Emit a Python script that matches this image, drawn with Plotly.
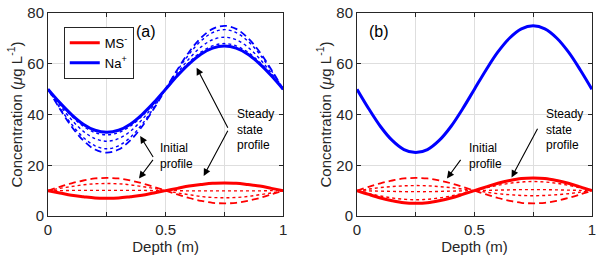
import plotly.graph_objects as go

# ---------------- data ----------------
depth = [0, 0.05, 0.1, 0.15, 0.2, 0.25, 0.3, 0.35, 0.4, 0.45, 0.5,
         0.55, 0.6, 0.65, 0.7, 0.75, 0.8, 0.85, 0.9, 0.95, 1.0]

# panel (a)
na_a_initial = [50, 42.3, 35.3, 29.8, 26.2, 25.0, 26.2, 29.8, 35.3, 42.3, 50,
                57.7, 64.7, 70.2, 73.8, 75.0, 73.8, 70.2, 64.7, 57.7, 50]
na_a_t1 = [50, 42.7, 36.2, 31.0, 27.7, 26.5, 27.7, 31.0, 36.2, 42.7, 50,
           57.3, 63.8, 69.0, 72.3, 73.5, 72.3, 69.0, 63.8, 57.3, 50]
na_a_t2 = [50, 43.7, 38.0, 33.4, 30.5, 29.5, 30.5, 33.4, 38.0, 43.7, 50,
           56.3, 62.0, 66.6, 69.5, 70.5, 69.5, 66.6, 62.0, 56.3, 50]
na_a_t3 = [50, 44.4, 39.4, 35.4, 32.9, 32.0, 32.9, 35.4, 39.4, 44.4, 50,
           55.6, 60.6, 64.6, 67.1, 68.0, 67.1, 64.6, 60.6, 55.6, 50]
na_a_steady = [50, 44.7, 40.0, 36.2, 33.8, 33.0, 33.8, 36.2, 40.0, 44.7, 50,
               55.3, 60.0, 63.8, 66.2, 67.0, 66.2, 63.8, 60.0, 55.3, 50]

ms_a_initial = [10, 11.5, 12.9, 14.0, 14.8, 15.0, 14.8, 14.0, 12.9, 11.5, 10,
                8.5, 7.1, 6.0, 5.2, 5.0, 5.2, 6.0, 7.1, 8.5, 10]
ms_a_t1 = [10, 10.9, 11.6, 12.3, 12.7, 12.8, 12.7, 12.3, 11.6, 10.9, 10,
           9.1, 8.4, 7.7, 7.3, 7.2, 7.3, 7.7, 8.4, 9.1, 10]
ms_a_t2 = [10, 10.0, 10.1, 10.1, 10.1, 10.1, 10.1, 10.1, 10.1, 10.0, 10,
           10.0, 9.9, 9.9, 9.9, 9.9, 9.9, 9.9, 9.9, 10.0, 10]
ms_a_steady = [10, 9.1, 8.2, 7.6, 7.1, 7.0, 7.1, 7.6, 8.2, 9.1, 10,
               10.9, 11.8, 12.4, 12.9, 13.0, 12.9, 12.4, 11.8, 10.9, 10]

# panel (b)
na_b_steady = [50, 42.3, 35.3, 29.8, 26.2, 25.0, 26.2, 29.8, 35.3, 42.3, 50,
               57.7, 64.7, 70.2, 73.8, 75.0, 73.8, 70.2, 64.7, 57.7, 50]
ms_b_initial = [10, 11.5, 12.9, 14.0, 14.8, 15.0, 14.8, 14.0, 12.9, 11.5, 10,
                8.5, 7.1, 6.0, 5.2, 5.0, 5.2, 6.0, 7.1, 8.5, 10]
ms_b_t1 = [10, 10.6, 11.2, 11.6, 11.9, 12.0, 11.9, 11.6, 11.2, 10.6, 10,
           9.4, 8.8, 8.4, 8.1, 8.0, 8.1, 8.4, 8.8, 9.4, 10]
ms_b_t2 = [10, 9.9, 9.8, 9.7, 9.6, 9.6, 9.6, 9.7, 9.8, 9.9, 10,
           10.1, 10.2, 10.3, 10.4, 10.4, 10.4, 10.3, 10.2, 10.1, 10]
ms_b_t3 = [10, 8.9, 7.9, 7.1, 6.6, 6.4, 6.6, 7.1, 7.9, 8.9, 10,
           11.1, 12.1, 12.9, 13.4, 13.6, 13.4, 12.9, 12.1, 11.1, 10]
ms_b_steady = [10, 8.5, 7.1, 6.0, 5.2, 5.0, 5.2, 6.0, 7.1, 8.5, 10,
               11.5, 12.9, 14.0, 14.8, 15.0, 14.8, 14.0, 12.9, 11.5, 10]

x_tickvals = [0, 0.25, 0.5, 0.75, 1]
x_ticktext = ["0", "", "0.5", "", "1"]
y_tickvals = [0, 20, 40, 60, 80]

RED = "#ff0000"
BLUE = "#0000ff"
FONT = "Liberation Sans, Arial, sans-serif"
INK = "#262626"

fig = go.Figure()


def add(y, color, style, xa, ya, name=None, legend=False):
    width = {"solid": 3, "dash": 1.8, "dot": 1.4}[style]
    dash = {"solid": "solid", "dash": "7px,4px", "dot": "dot"}[style]
    fig.add_trace(go.Scatter(
        x=depth, y=y, mode="lines", xaxis=xa, yaxis=ya,
        line=dict(color=color, width=width, dash=dash, shape="spline"),
        name=name, showlegend=legend, hoverinfo="skip"))


# panel (a)
for ys, st in [(na_a_initial, "dash"), (na_a_t1, "dot"), (na_a_t2, "dot"), (na_a_t3, "dot")]:
    add(ys, BLUE, st, "x", "y")
for ys, st in [(ms_a_initial, "dash"), (ms_a_t1, "dot"), (ms_a_t2, "dot")]:
    add(ys, RED, st, "x", "y")
add(ms_a_steady, RED, "solid", "x", "y", name="MS<sup>-</sup>", legend=True)
add(na_a_steady, BLUE, "solid", "x", "y", name="Na<sup>+</sup>", legend=True)

# panel (b)
for ys, st in [(ms_b_initial, "dash"), (ms_b_t1, "dot"), (ms_b_t2, "dot"), (ms_b_t3, "dot")]:
    add(ys, RED, st, "x2", "y2")
add(ms_b_steady, RED, "solid", "x2", "y2")
add(na_b_steady, BLUE, "solid", "x2", "y2")

axis_common = dict(
    showline=True, linecolor=INK, linewidth=1, mirror="ticks",
    ticks="inside", ticklen=4, tickcolor=INK,
    showgrid=True, gridcolor="#dedede", gridwidth=1, zeroline=False,
    tickfont=dict(family=FONT, size=15, color=INK),
    ticklabeloverflow="allow",
)
xaxis_common = dict(axis_common, range=[0, 1.0005], tickvals=x_tickvals, ticktext=x_ticktext,
                    title=dict(text="Depth (m)", font=dict(family=FONT, size=15, color=INK),
                               standoff=4))
yaxis_common = dict(axis_common, range=[0, 80.05], tickvals=y_tickvals,
                    title=dict(text="Concentration (<i>μ</i>g L<sup>-1</sup>)",
                               font=dict(family=FONT, size=15, color=INK), standoff=1))

fig.update_layout(
    width=600, height=258,
    margin=dict(l=48, r=4, t=8, b=42),
    paper_bgcolor="white", plot_bgcolor="white",
    xaxis=dict(xaxis_common, domain=[0, 0.4325], anchor="y"),
    yaxis=dict(yaxis_common, domain=[0, 1], anchor="x"),
    xaxis2=dict(xaxis_common, domain=[0.568, 1], anchor="y2"),
    yaxis2=dict(yaxis_common, domain=[0, 1], anchor="x2"),
    legend=dict(x=0.029, y=0.932, xanchor="left", yanchor="top",
                bgcolor="white", bordercolor=INK, borderwidth=1,
                font=dict(family=FONT, size=13, color="black"),
                tracegroupgap=0, itemwidth=30),
    font=dict(family=FONT, color="black"),
)

ann = []


def text(x, y, s, xr, yr, size=12, anchor="left"):
    ann.append(dict(x=x, y=y, xref=xr, yref=yr, text=s, showarrow=False,
                    xanchor=anchor, yanchor="middle", align="left",
                    font=dict(family=FONT, size=size, color="black")))


def arrow(hx, hy, tx, ty, xr, yr):
    ann.append(dict(x=hx, y=hy, ax=tx, ay=ty, xref=xr, yref=yr, axref=xr, ayref=yr,
                    text="", showarrow=True, arrowhead=2, arrowsize=1.3,
                    arrowwidth=1.1, arrowcolor="black"))


# panel (a)
text(0.415, 72.7, "(a)", "x", "y", size=16, anchor="center")
text(0.797, 34.2, "Steady<br>state<br>profile", "x", "y")
text(0.468, 23.8, "Initial<br>profile", "x", "y")
arrow(0.632, 58.5, 0.768, 34.2, "x", "y")
arrow(0.662, 15.8, 0.768, 34.2, "x", "y")
arrow(0.392, 31.5, 0.451, 22.7, "x", "y")
arrow(0.387, 14.8, 0.451, 22.7, "x", "y")

# panel (b)
text(0.095, 72.7, "(b)", "x2", "y2", size=16, anchor="center")
text(0.797, 34.2, "Steady<br>state<br>profile", "x2", "y2")
text(0.468, 23.8, "Initial<br>profile", "x2", "y2")
arrow(0.383, 14.8, 0.446, 22.7, "x2", "y2")
arrow(0.658, 15.2, 0.772, 35.0, "x2", "y2")

fig.update_layout(annotations=ann)
fig.write_html("out.html", config={"displayModeBar": False},
               post_script="document.body.style.margin='0px';document.body.style.padding='0px';")
